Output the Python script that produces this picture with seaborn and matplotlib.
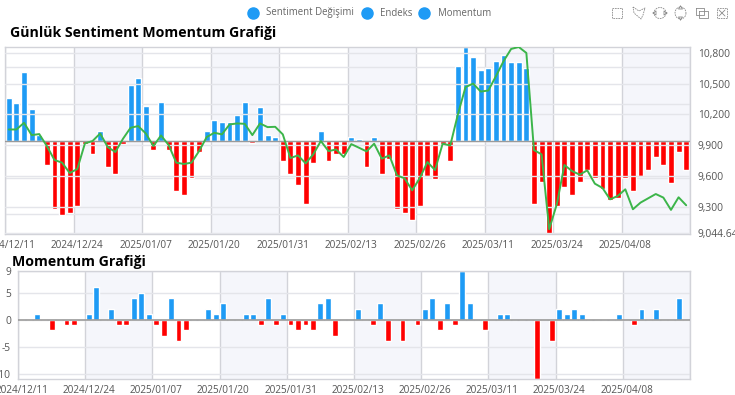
# plot.py
import numpy as np
import pandas as pd
import matplotlib
matplotlib.use("Agg")
import matplotlib.pyplot as plt
from matplotlib.lines import Line2D
import seaborn as sns

# every 9th day is labelled
tick_dates = ['2024/12/11', '2024/12/24', '2025/01/07', '2025/01/20', '2025/01/31',
              '2025/02/13', '2025/02/26', '2025/03/11', '2025/03/24', '2025/04/08']

sentiment_change = [
    11.6, 10.1, 18.6, 8.6, 1.5, -6.5, -18.6, -20.1, -19.6, -17.7,
    -0.9, -3.5, 2.5, -7.0, -9.0, -1.0, 15.1, 17.1, 9.5, -2.5,
    10.6, -2.5, -13.6, -14.6, -10.1, -3.0, 2.5, 5.6, 5.0, 5.0,
    7.0, 10.6, -0.6, 9.1, 1.5, 1.0, -5.5, -9.0, -12.1, -17.1,
    -6.0, 2.5, -5.5, -3.5, -3.5, 1.0, 0.5, -7.0, 1.0, -9.0,
    -5.0, -18.6, -19.6, -21.6, -17.6, -9.5, -10.5, -1.0, -5.5, 20.2,
    25.4, 22.7, 19.2, 19.6, 21.7, 23.2, 21.2, 21.2, 19.6, -17.1,
    -11.1, -25.3, -17.6, -12.6, -14.6, -11.1, -8.0, -10.1, -13.1, -16.1,
    -15.6, -10.1, -13.6, -9.5, -8.0, -4.5, -6.5, -11.5, -3.0, -8.0,
]

endeks = [
    10053, 10053, 10118, 9998, 10008, 9891, 9755, 9729, 9628, 9667,
    9917, 9940, 10014, 9881, 9833, 9962, 10070, 10086, 10014, 9891,
    9995, 9901, 9729, 9716, 9729, 9842, 9979, 10021, 10005, 10102,
    10112, 10108, 9998, 10112, 10076, 10079, 10005, 9774, 9800, 9722,
    9810, 9940, 9842, 9858, 9784, 9910, 9875, 9839, 9914, 9768,
    9800, 9605, 9576, 9459, 9579, 9735, 9657, 9914, 9897, 10199,
    10466, 10501, 10423, 10433, 10573, 10719, 10839, 10858, 10800, 9852,
    9810, 9079, 9323, 9706, 9647, 9612, 9654, 9524, 9482, 9371,
    9404, 9469, 9274, 9339, 9381, 9423, 9388, 9268, 9391, 9313,
]

momentum = [
    0, 0, 1, 0, -2, 0, -1, -1, 0, 1,
    6, 0, 2, -1, -1, 4, 5, 1, -1, -3,
    4, -4, -2, 0, 0, 2, 1, 3, 0, 0,
    1, 1, -1, 4, -1, 1, -1, -2, -1, -2,
    3, 4, -3, 0, 0, 2, 0, -1, 3, -4,
    0, -4, 0, -1, 2, 4, -2, 3, -1, 9,
    3, 0, -2, 0, 1, 1, 0, 0, 0, -11,
    0, -4, 2, 1, 2, 1, 0, 0, 0, 0,
    1, 0, -1, 2, 0, 2, 0, 0, 4, 0,
]

index_y_ticks = [9044.64, 9300, 9600, 9900, 10200, 10500, 10800]
index_y_labels = ['9,044.64', '9,300', '9,600', '9,900', '10,200', '10,500', '10,800']
sentiment_grid = [-20, -10, 0, 10, 20]
momentum_y_ticks = [-10, -5, 0, 5, 9]
legend_names = ['Sentiment Değişimi', 'Endeks', 'Momentum']

W, H = 735, 395
BLUE = '#1e9bf5'
RED = '#ff0000'
GREEN = '#3cb54a'
BAND = '#f5f6fb'
GRID = '#e4e5ea'
SPLIT = '#d2d3d9'
TEXT = '#555555'
ICON = '#8a8a8a'

sns.set_theme(style="white")
plt.rcParams['font.family'] = ['Open Sans', 'DejaVu Sans']

days = np.arange(len(endeks))
df = pd.DataFrame({'gun': days, 'degisim': sentiment_change, 'endeks': endeks, 'momentum': momentum})


def px_axes(fig, left, top, right, bottom):
    return fig.add_axes([left / W, 1 - bottom / H, (right - left) / W, (bottom - top) / H])


def style_panel(ax):
    # alternating bands and split lines sit on the category boundaries
    edges = np.arange(0, len(days) + 1, 9) - 0.5
    for k in range(len(edges) - 1):
        if k % 2 == 1:
            ax.axvspan(edges[k], edges[k + 1], color=BAND, zorder=0, lw=0)
    for e in edges:
        ax.axvline(e, color=SPLIT, lw=1.0, zorder=0.5)
    ax.set_xlim(-0.5, len(days) - 0.5)
    ax.set_xticks(np.arange(0, len(days), 9))
    ax.set_xticklabels(tick_dates)
    ax.tick_params(axis='x', length=0, pad=4, labelsize=7.2, labelcolor=TEXT)
    ax.set_xlabel('')
    ax.set_ylabel('')
    for s in ax.spines.values():
        s.set_color(SPLIT)
        s.set_linewidth(1.0)


def draw_bars(ax, col):
    signs = np.where(df[col] >= 0, 'pos', 'neg')
    sns.barplot(data=df, x='gun', y=col, hue=signs, palette={'pos': BLUE, 'neg': RED},
                dodge=False, legend=False, width=0.78, saturation=1, ax=ax, zorder=2)


def icon(fig, xs, ys, **kw):
    # xs, ys in pixels of the picture
    fig.add_artist(Line2D(np.array(xs) / W, 1 - np.array(ys) / H, color=ICON, lw=0.6,
                          transform=fig.transFigure, **kw))


def draw_toolbox(fig):
    dash = {'ls': (0, (2, 1))}
    # rect select
    icon(fig, [612, 622, 622, 612, 612], [8, 8, 18, 18, 8], **dash)
    # lasso
    icon(fig, [633, 639, 645, 643, 641, 634, 633], [7, 11, 8, 15, 19, 13, 7], **dash)
    # zoom x
    t = np.linspace(0, 2 * np.pi, 24)
    icon(fig, 660 + 6 * np.cos(t), 13 + 5.5 * np.sin(t), **dash)
    icon(fig, [653, 656, 656, 653], [13, 11, 15, 13])
    icon(fig, [667, 664, 664, 667], [13, 11, 15, 13])
    # zoom y
    icon(fig, 680.5 + 5.5 * np.cos(t), 13 + 6 * np.sin(t), **dash)
    icon(fig, [680.5, 678.5, 682.5, 680.5], [6, 9, 9, 6])
    icon(fig, [680.5, 678.5, 682.5, 680.5], [20, 17, 17, 20])
    # keep / overlap
    icon(fig, [696, 704, 704, 696, 696], [8, 8, 15, 15, 8])
    icon(fig, [699, 708, 708, 699, 699], [11, 11, 18, 18, 11])
    # clear
    icon(fig, [717, 727, 727, 717, 717], [8, 8, 18, 18, 8], **dash)
    icon(fig, [719, 725], [10, 16])
    icon(fig, [725, 719], [10, 16])


fig = plt.figure(figsize=(W / 100, H / 100), dpi=100)

# ust grafik: bars on a hidden axis, index line on the right axis
ax1 = px_axes(fig, 5, 47, 690, 234)
draw_bars(ax1, 'degisim')
style_panel(ax1)
ax1.set_ylim(-25.3, 25.4)
ax1.set_yticks(sentiment_grid)
ax1.set_yticklabels([])
ax1.tick_params(axis='y', length=0)
ax1.grid(axis='y', color=GRID, lw=1.0, zorder=1)
ax1.set_axisbelow(True)
ax1.axhline(0, color='#9a9a9a', lw=1.0, zorder=3)

ax1b = ax1.twinx()
sns.lineplot(data=df, x='gun', y='endeks', color=GREEN, lw=1.4, ax=ax1b, zorder=4)
ax1b.set_ylim(9044.64 - 12, 10858)
ax1b.set_yticks(index_y_ticks)
ax1b.set_yticklabels(index_y_labels)
ax1b.tick_params(axis='y', length=0, pad=5.5, labelsize=7.4, labelcolor=TEXT)
ax1b.grid(axis='y', color=GRID, lw=1.0)
ax1b.set_xlabel('')
ax1b.set_ylabel('')
for s in ax1b.spines.values():
    s.set_visible(False)

# alt grafik
ax2 = px_axes(fig, 18, 271, 690, 379)
draw_bars(ax2, 'momentum')
style_panel(ax2)
ax2.set_ylim(-11, 9)
ax2.set_yticks(momentum_y_ticks)
ax2.set_yticklabels([str(v) for v in momentum_y_ticks])
ax2.tick_params(axis='y', length=0, pad=5, labelsize=7.4, labelcolor=TEXT)
ax2.grid(axis='y', color=GRID, lw=1.0, zorder=1)
ax2.set_axisbelow(True)
ax2.axhline(0, color='#9a9a9a', lw=1.2, zorder=3)

# basliklar
fig.text(10 / W, 1 - 33 / H, 'Günlük Sentiment Momentum Grafiği', fontsize=10.2,
         fontweight='bold', color='black', va='center', ha='left')
fig.text(12 / W, 1 - 262 / H, 'Momentum Grafiği', fontsize=10.2,
         fontweight='bold', color='black', va='center', ha='left')

# legend
legend_x = [252.5, 366.5, 424]
for x, name in zip(legend_x, legend_names):
    fig.add_artist(Line2D([x / W], [1 - 13 / H], marker='o', ms=8, color=BLUE, lw=0,
                          transform=fig.transFigure))
    fig.text((x + 14) / W, 1 - 13 / H, name, fontsize=6.9, color='#666666', va='center', ha='left')

draw_toolbox(fig)

fig.savefig('out.png', dpi=100)
